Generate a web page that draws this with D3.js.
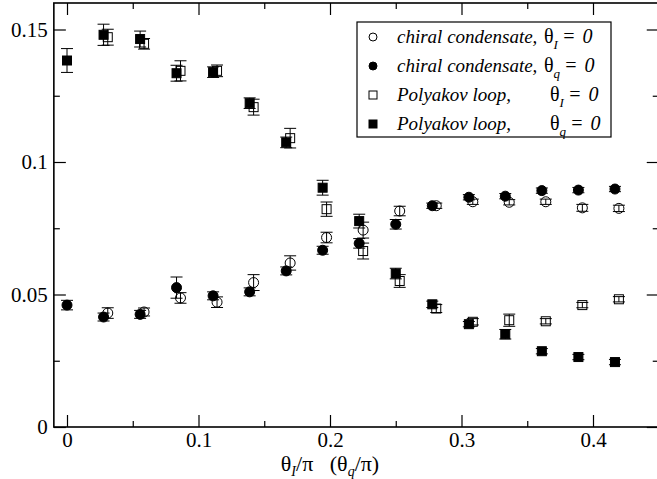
<!DOCTYPE html>
<html>
<head>
<meta charset="utf-8">
<script src="https://cdn.jsdelivr.net/npm/d3@7"></script>
<style>
  body { margin: 0; background: #fff; }
  svg text { font-family: "Liberation Serif", "Times New Roman", Times, "DejaVu Serif", "Noto Serif", serif !important; }
</style>
</head>
<body>
<script>
// x positions (theta / pi)
let xQ = [0, 0.0278, 0.0556, 0.0833, 0.1111, 0.1389, 0.1667, 0.1944, 0.2222, 0.25, 0.2778, 0.3056, 0.3333, 0.3611, 0.3889, 0.4167]
let xI = [0.031, 0.0586, 0.0863, 0.1141, 0.1419, 0.1697, 0.1974, 0.2252, 0.253, 0.2808, 0.3086, 0.3363, 0.3641, 0.3919, 0.4197]

// chiral condensate
let chiralQ = [0.046, 0.0415, 0.0425, 0.0526, 0.0495, 0.051, 0.0589, 0.0667, 0.0693, 0.0765, 0.0835, 0.0867, 0.0871, 0.0892, 0.0894, 0.0898]
let chiralQErr = [0.0018, 0.0015, 0.0015, 0.004, 0.0015, 0.0015, 0.0015, 0.0015, 0.0018, 0.0018, 0.001, 0.001, 0.001, 0.001, 0.001, 0.001]
let chiralI = [0.043, 0.0434, 0.0487, 0.0471, 0.0545, 0.0619, 0.0715, 0.0743, 0.0815, 0.0835, 0.085, 0.0848, 0.085, 0.0827, 0.0825]
let chiralIErr = [0.002, 0.0015, 0.002, 0.002, 0.003, 0.0027, 0.002, 0.003, 0.0018, 0.001, 0.001, 0.001, 0.001, 0.0013, 0.0012]

// Polyakov loop
let polyQ = [0.1383, 0.148, 0.1464, 0.1335, 0.1339, 0.1222, 0.1074, 0.0903, 0.0777, 0.0579, 0.0463, 0.0388, 0.035, 0.0286, 0.0264, 0.0245]
let polyQErr = [0.0045, 0.004, 0.003, 0.003, 0.002, 0.002, 0.002, 0.0028, 0.0026, 0.002, 0.0012, 0.001, 0.0018, 0.001, 0.001, 0.001]
let polyI = [0.1471, 0.1446, 0.1344, 0.1344, 0.1207, 0.109, 0.0822, 0.0664, 0.0551, 0.0447, 0.0397, 0.0403, 0.0399, 0.046, 0.0482]
let polyIErr = [0.003, 0.002, 0.0038, 0.0022, 0.003, 0.0037, 0.0027, 0.003, 0.0024, 0.0015, 0.0012, 0.0023, 0.001, 0.001, 0.001]

let xTicks = [0, 0.1, 0.2, 0.3, 0.4]
let xMinor = [0.05, 0.15, 0.25, 0.35]
let yTicks = [0, 0.05, 0.1, 0.15]
let yMinor = [0.025, 0.075, 0.125]

let width = 657;
let height = 479;
let serif = '"Liberation Serif", "Times New Roman", Times, "DejaVu Serif", serif'

let svg = d3.select('body')
  .append('svg')
  .attr('width', width)
  .attr('height', height)
  .attr('font-family', serif);

let x = d3.scaleLinear().domain([-0.01, 0.45]).range([53.85, 658.75])
let y = d3.scaleLinear().domain([0, 0.16]).range([427, 3])

let plotL = x(-0.01), plotR = x(0.45), plotT = y(0.16), plotB = y(0)

// axes: bottom/left with labels, top/right ticks only
let tickLen = 12, minorLen = 6
svg.append('g')
  .attr('transform', `translate(0,${plotB})`)
  .call(d3.axisBottom(x).tickValues(xTicks).tickSize(-tickLen).tickPadding(5).tickFormat(d3.format('')))
svg.append('g')
  .attr('transform', `translate(0,${plotB})`)
  .call(d3.axisBottom(x).tickValues(xMinor).tickSize(-minorLen).tickFormat(''))
svg.append('g')
  .attr('transform', `translate(0,${plotT})`)
  .call(d3.axisTop(x).tickValues(xTicks).tickSize(-tickLen).tickFormat(''))
svg.append('g')
  .attr('transform', `translate(0,${plotT})`)
  .call(d3.axisTop(x).tickValues(xMinor).tickSize(-minorLen).tickFormat(''))

svg.append('g')
  .attr('transform', `translate(${plotL},0)`)
  .call(d3.axisLeft(y).tickValues(yTicks).tickSize(-tickLen).tickPadding(6).tickFormat(d => d === 0 ? '0' : d3.format('')(d)))
svg.append('g')
  .attr('transform', `translate(${plotL},0)`)
  .call(d3.axisLeft(y).tickValues(yMinor).tickSize(-minorLen).tickFormat(''))
svg.append('g')
  .attr('transform', `translate(${plotR},0)`)
  .call(d3.axisRight(y).tickValues(yTicks).tickSize(-tickLen).tickFormat(''))
svg.append('g')
  .attr('transform', `translate(${plotR},0)`)
  .call(d3.axisRight(y).tickValues(yMinor).tickSize(-minorLen).tickFormat(''))

svg.selectAll('.domain').remove()
svg.selectAll('g').attr('font-family', serif)
svg.selectAll('.tick line').attr('stroke', '#000').attr('stroke-width', 1.2)
svg.selectAll('.tick text')
  .attr('font-size', 21)
  .attr('fill', '#000')

// frame
svg.append('rect')
  .attr('x', plotL).attr('y', plotT)
  .attr('width', plotR - plotL).attr('height', plotB - plotT)
  .attr('fill', 'none').attr('stroke', '#000').attr('stroke-width', 1.6)

// series
let series = [
  { xs: xQ, ys: chiralQ, es: chiralQErr, shape: 'circle', filled: true },
  { xs: xI, ys: chiralI, es: chiralIErr, shape: 'circle', filled: false },
  { xs: xQ, ys: polyQ, es: polyQErr, shape: 'square', filled: true },
  { xs: xI, ys: polyI, es: polyIErr, shape: 'square', filled: false }
]

let capW = 6
series.forEach(s => {
  let pts = s.ys.map((v, i) => ({ x: s.xs[i], y: v, e: s.es[i] }))
  let g = svg.append('g')
  let eb = g.selectAll('g.err').data(pts).enter().append('g').attr('class', 'err')
    .attr('stroke', '#000').attr('stroke-width', 1)
  eb.append('line')
    .attr('x1', d => x(d.x)).attr('x2', d => x(d.x))
    .attr('y1', d => y(d.y - d.e)).attr('y2', d => y(d.y + d.e))
  eb.append('line')
    .attr('x1', d => x(d.x) - capW).attr('x2', d => x(d.x) + capW)
    .attr('y1', d => y(d.y + d.e)).attr('y2', d => y(d.y + d.e))
  eb.append('line')
    .attr('x1', d => x(d.x) - capW).attr('x2', d => x(d.x) + capW)
    .attr('y1', d => y(d.y - d.e)).attr('y2', d => y(d.y - d.e))

  if (s.shape === 'circle') {
    g.selectAll('circle').data(pts).enter().append('circle')
      .attr('cx', d => x(d.x)).attr('cy', d => y(d.y)).attr('r', 5)
      .attr('fill', s.filled ? '#000' : 'none')
      .attr('stroke', '#000').attr('stroke-width', 1)
  } else {
    g.selectAll('rect').data(pts).enter().append('rect')
      .attr('x', d => x(d.x) - 4.5).attr('y', d => y(d.y) - 4.5)
      .attr('width', 9).attr('height', 9)
      .attr('fill', s.filled ? '#000' : 'none')
      .attr('stroke', '#000').attr('stroke-width', 1)
  }
})

// legend
let legend = svg.append('g')
legend.append('rect')
  .attr('x', 357).attr('y', 22).attr('width', 254).attr('height', 115)
  .attr('fill', '#fff').attr('stroke', '#000').attr('stroke-width', 1.2)

let legendItems = [
  { label: 'chiral condensate,', sub: 'I', shape: 'circle', filled: false, tx: 544 },
  { label: 'chiral condensate,', sub: 'q', shape: 'circle', filled: true, tx: 544 },
  { label: 'Polyakov loop,', sub: 'I', shape: 'square', filled: false, tx: 550 },
  { label: 'Polyakov loop,', sub: 'q', shape: 'square', filled: true, tx: 550 }
]

legendItems.forEach((d, i) => {
  let cy = 37 + i * 29
  if (d.shape === 'circle') {
    legend.append('circle').attr('cx', 373).attr('cy', cy).attr('r', 4)
      .attr('fill', d.filled ? '#000' : 'none').attr('stroke', '#000')
  } else {
    legend.append('rect').attr('x', 369).attr('y', cy - 4).attr('width', 8).attr('height', 8)
      .attr('fill', d.filled ? '#000' : 'none').attr('stroke', '#000')
  }
  legend.append('text')
    .attr('x', 397).attr('y', cy + 6)
    .attr('font-size', 19).attr('font-style', 'italic')
    .text(d.label)
  let t = legend.append('text')
    .attr('x', d.tx).attr('y', cy + 6)
    .attr('font-size', 20)
  t.append('tspan').text('θ')
  t.append('tspan').attr('dy', 6).attr('font-size', 13).attr('font-style', 'italic').text(d.sub)
  t.append('tspan').attr('dy', -6).attr('dx', 4).attr('font-style', 'italic').text('=')
  t.append('tspan').attr('dx', 7).attr('font-style', 'italic').text('0')
})

// x axis title
let xt = svg.append('text')
  .attr('x', 330).attr('y', 471)
  .attr('text-anchor', 'middle')
  .attr('font-size', 22)
  .style('white-space', 'pre')
xt.append('tspan').text('θ')
xt.append('tspan').attr('dy', 5).attr('font-size', 14).attr('font-style', 'italic').text('I')
xt.append('tspan').attr('dy', -5).text('/π   (θ')
xt.append('tspan').attr('dy', 5).attr('font-size', 14).attr('font-style', 'italic').text('q')
xt.append('tspan').attr('dy', -5).text('/π)')
</script>
</body>
</html>
